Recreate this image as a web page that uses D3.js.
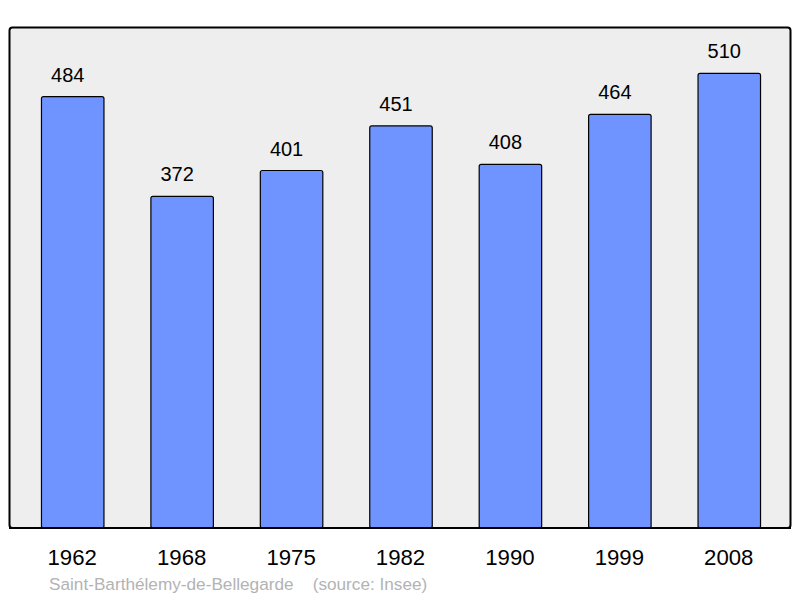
<!DOCTYPE html>
<html>
<head>
<meta charset="utf-8">
<script src="https://cdn.jsdelivr.net/npm/d3@7"></script>
<style>
  body { margin: 0; background: #fff; }
  text { font-family: "Liberation Sans", Arial, sans-serif; }
</style>
</head>
<body>
<div id="chart"></div>
<script>
var years = ["1962", "1968", "1975", "1982", "1990", "1999", "2008"];
var population = [484, 372, 401, 451, 408, 464, 510];
var placeName = "Saint-Barthélemy-de-Bellegarde";
var sourceNote = "(source: Insee)";

var width = 800, height = 598;

var svg = d3.select("#chart").append("svg")
    .attr("width", width)
    .attr("height", height);

// plot frame
svg.append("rect")
    .attr("x", 9.5).attr("y", 27.5)
    .attr("width", 781).attr("height", 500.5)
    .attr("rx", 3).attr("ry", 3)
    .attr("fill", "#eeeeee")
    .attr("stroke", "#000")
    .attr("stroke-width", 2);

var x = d3.scaleBand()
    .domain(years)
    .range([18, 784])
    .paddingInner(0.429)
    .paddingOuter(0.2145);

var y = d3.scaleLinear()
    .domain([0, 562])
    .range([528, 27]);

var data = years.map(function (yr, i) {
    return { year: yr, value: population[i] };
});

svg.append("g").selectAll("rect.bar")
    .data(data)
    .enter().append("rect")
    .attr("class", "bar")
    .attr("x", function (d) { return x(d.year); })
    .attr("y", function (d) { return y(d.value); })
    .attr("width", x.bandwidth())
    .attr("height", function (d) { return y(0) - y(d.value); })
    .attr("rx", 2).attr("ry", 2)
    .attr("fill", "#7094ff")
    .attr("stroke", "#000")
    .attr("stroke-width", 1.2);

// redraw bottom edge of frame over the bars
svg.append("line")
    .attr("x1", 9).attr("x2", 791)
    .attr("y1", 528).attr("y2", 528)
    .attr("stroke", "#000")
    .attr("stroke-width", 2);

svg.append("g").selectAll("text.val")
    .data(data)
    .enter().append("text")
    .attr("class", "val")
    .attr("x", function (d) { return x(d.year) + x.bandwidth() / 2 - 5; })
    .attr("y", function (d) { return y(d.value) - 15; })
    .attr("text-anchor", "middle")
    .attr("font-size", 20)
    .attr("fill", "#000")
    .text(function (d) { return d.value; });

svg.append("g").selectAll("text.year")
    .data(years)
    .enter().append("text")
    .attr("class", "year")
    .attr("x", function (d) { return x(d) + x.bandwidth() / 2 - 0.5; })
    .attr("y", 564.5)
    .attr("text-anchor", "middle")
    .attr("font-size", 22.2)
    .attr("fill", "#000")
    .text(function (d) { return d; });

svg.append("text")
    .attr("x", 49)
    .attr("y", 590)
    .attr("font-size", 17.2)
    .attr("fill", "#b3b3b3")
    .attr("xml:space", "preserve")
    .style("white-space", "pre")
    .text(placeName + "    " + sourceNote);
</script>
</body>
</html>
